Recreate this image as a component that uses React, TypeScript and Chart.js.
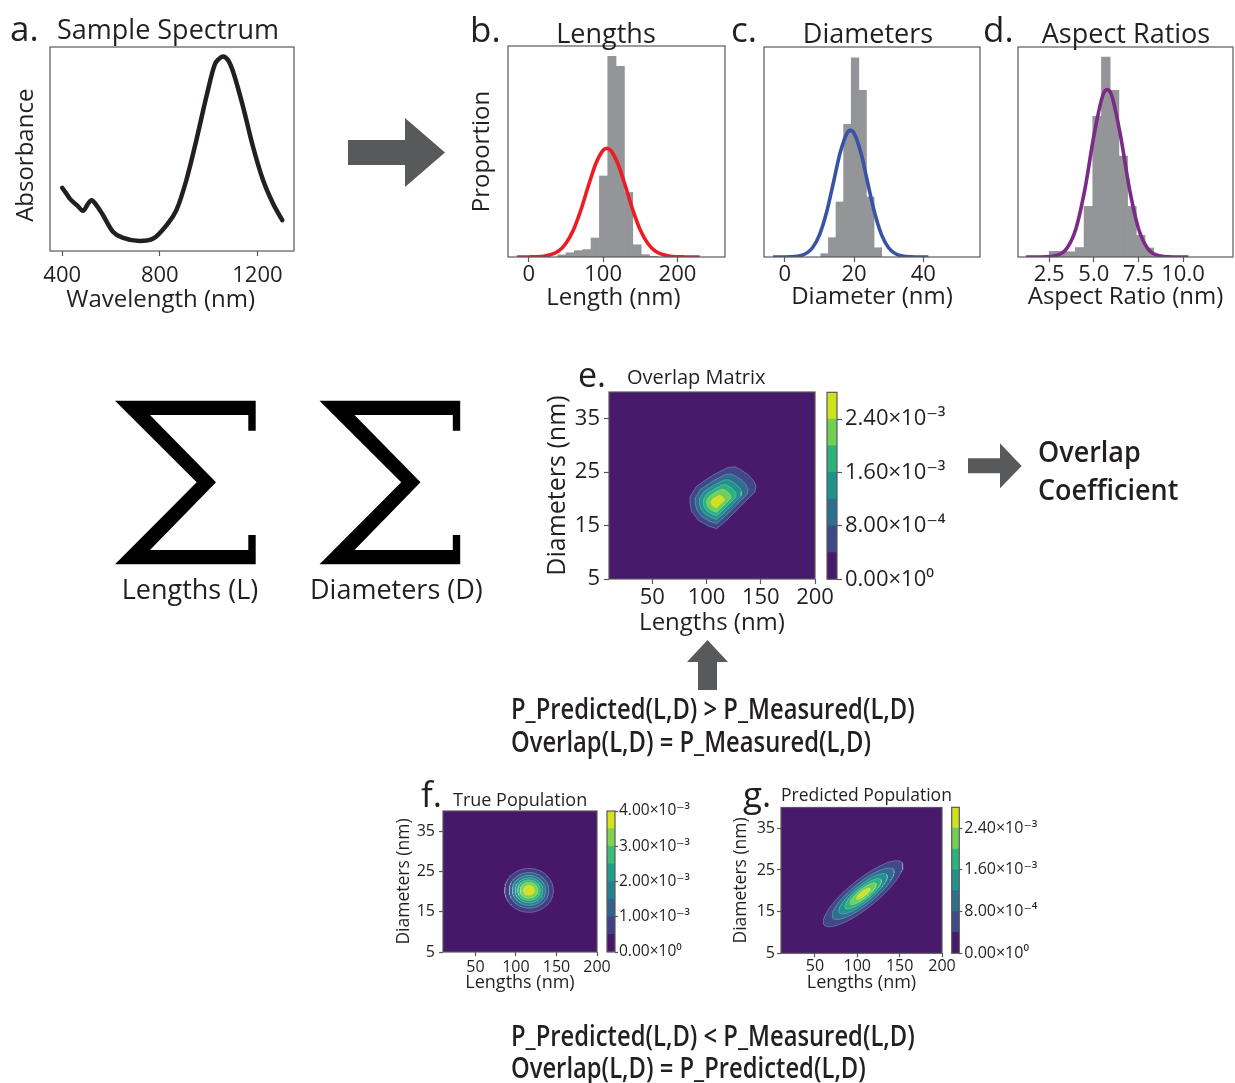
import React, { useEffect, useRef } from 'react';
import { Chart, registerables } from 'chart.js';

Chart.register(...registerables);

const FONT = "'Open Sans', 'DejaVu Sans', sans-serif";
const INK = '#231f20';
const FRAME = '#58595b';
const ARROW = '#58595b';
const HIST_GRAY = '#939598';

// ---------- a. Sample spectrum ----------
const spectrumWavelength = [400, 415, 431, 460, 486, 505, 520, 540, 565, 609, 650, 718, 773, 827, 868, 909, 950, 991, 1025, 1042, 1059, 1080, 1100, 1141, 1182, 1223, 1264, 1302];
const spectrumAbsorbance = [0.31, 0.285, 0.257, 0.225, 0.197, 0.23, 0.249, 0.225, 0.18, 0.093, 0.064, 0.049, 0.061, 0.126, 0.2, 0.348, 0.544, 0.757, 0.913, 0.941, 0.954, 0.935, 0.88, 0.708, 0.511, 0.348, 0.233, 0.151];
const spectrumTicks = [400, 800, 1200];

// ---------- b. Lengths ----------
const lengthBinCenters = [44.3, 55.6, 66.8, 78.1, 89.3, 100.6, 111.8, 123.1, 134.3, 145.6, 156.8, 168.1];
const lengthBinHeights = [0.01, 0.02, 0.03, 0.035, 0.09, 0.384, 0.951, 0.904, 0.306, 0.058, 0.011, 0.003];
const lengthFitX = [-16, 0, 20, 40, 50, 60, 70, 80, 90, 100, 105, 110, 120, 130, 140, 150, 160, 170, 190, 210, 230];
const lengthFitY = [0, 0.0003, 0.0036, 0.028, 0.065, 0.128, 0.222, 0.335, 0.441, 0.506, 0.515, 0.506, 0.441, 0.335, 0.222, 0.128, 0.065, 0.028, 0.0036, 0.0003, 0];
const lengthTicks = [0, 100, 200];

// ---------- c. Diameters ----------
const diameterBinCenters = [11.5, 13.7, 15.9, 18.1, 20.3, 22.5, 24.7, 26.9];
const diameterBinHeights = [0.016, 0.092, 0.262, 0.632, 0.949, 0.794, 0.286, 0.044];
const diameterFitX = [-3.4, 0, 5, 8, 10, 12, 14, 16, 18, 19, 20, 22, 24, 26, 28, 30, 33, 38, 41.5];
const diameterFitY = [0, 0.0002, 0.0086, 0.044, 0.104, 0.208, 0.35, 0.496, 0.59, 0.603, 0.59, 0.496, 0.35, 0.208, 0.104, 0.044, 0.0086, 0.0002, 0];
const diameterTicks = [0, 20, 40];

// ---------- d. Aspect ratios ----------
const aspectBinCenters = [2.744, 3.232, 3.72, 4.208, 4.696, 5.184, 5.672, 6.16, 6.648, 7.136, 7.624, 8.112, 8.6];
const aspectBinHeights = [0.027, 0.027, 0.025, 0.045, 0.241, 0.67, 0.952, 0.794, 0.481, 0.241, 0.103, 0.043, 0.008];
const aspectFitX = [1.2, 2, 3, 3.5, 4, 4.5, 5, 5.5, 5.75, 6, 6.5, 7, 7.5, 8, 8.5, 9.5, 10.3];
const aspectFitY = [0, 0.0002, 0.01, 0.043, 0.136, 0.323, 0.576, 0.769, 0.797, 0.769, 0.576, 0.323, 0.136, 0.043, 0.01, 0.0002, 0];
const aspectTicks = [2.5, 5, 7.5, 10];

// ---------- e/f/g. 2D maps ----------
const mapLengthTicks = [50, 100, 150, 200];
const mapDiameterTicks = [5, 15, 25, 35];

// e. overlap: outer (4e-4) contour outline, peak, and relative size of each higher level
const overlapOutlineL = [84.7, 90.9, 106.2, 120.0, 126.0, 132.0, 138.5, 143.5, 145.6, 144.7, 130.8, 118.6, 109.3, 101.6, 92.4, 86.3, 84.7, 84.7];
const overlapOutlineD = [20.4, 22.4, 24.5, 25.9, 26.0, 25.4, 24.5, 23.4, 22.4, 21.3, 18.5, 16.0, 14.4, 14.9, 16.0, 17.6, 19.2, 20.4];
const overlapPeak = { L: 109, D: 19.3 };
const overlapLevelScale = [1, 0.8, 0.64, 0.5, 0.37, 0.2];

// f. true population: centre, outer (5e-4) radii, relative size per level
const trueCenter = { L: 116.1, D: 20.3 };
const trueRadius = { L: 30.1, D: 5.46 };
const trueLevelScale = [1, 0.81, 0.68, 0.57, 0.465, 0.36, 0.22];

// g. predicted population: centre, outer (4e-4) semi-axes, relative size per level
const predCenter = { L: 106.9, D: 19.3 };
const predMajor = { L: 45.8, D: 7.49 };
const predMinor = { L: 10.5, D: -2.65 };
const predLevelScale = [1, 0.78, 0.61, 0.46, 0.33, 0.17];

const viridis7 = ['rgb(71,26,108)', 'rgb(63,72,136)', 'rgb(46,110,142)', 'rgb(33,145,140)', 'rgb(45,178,125)', 'rgb(114,207,86)', 'rgb(208,225,30)'];
const viridis8 = ['rgb(71,23,105)', 'rgb(66,64,133)', 'rgb(52,98,141)', 'rgb(38,129,142)', 'rgb(31,159,136)', 'rgb(63,188,115)', 'rgb(130,211,76)', 'rgb(215,226,28)'];

const overlapCbarStep = 4e-4;
const overlapCbarTicks = [0, 8e-4, 1.6e-3, 2.4e-3];
const overlapCbarLabels = ['0.00×10⁰', '8.00×10⁻⁴', '1.60×10⁻³', '2.40×10⁻³'];
const trueCbarStep = 5e-4;
const trueCbarTicks = [0, 1e-3, 2e-3, 3e-3, 4e-3];
const trueCbarLabels = ['0.00×10⁰', '1.00×10⁻³', '2.00×10⁻³', '3.00×10⁻³', '4.00×10⁻³'];

// ---------- helpers ----------
type Pt = { x: number; y: number };
const zipPts = (xs: number[], ys: number[]): Pt[] => xs.map((x, i) => ({ x, y: ys[i] }));

const framePlugin = {
  id: 'frame',
  afterDraw(chart: any) {
    const { ctx, chartArea: a } = chart;
    ctx.save();
    ctx.strokeStyle = FRAME;
    ctx.lineWidth = 1.2;
    ctx.strokeRect(a.left, a.top, a.right - a.left, a.bottom - a.top);
    ctx.restore();
  },
};
Chart.register(framePlugin as any);

const font = (size: number, weight: any = 'normal') => ({ family: FONT, size, weight, lineHeight: 1.2 });

interface AxisOpts {
  min: number; max: number; ticks?: number[]; size: number; tickFont?: number; tickLen?: number; tickPad?: number;
  fmt?: (v: number, i: number) => string; title?: string; titleFont?: number; titlePad?: number; position?: string;
}

function linearAxis(o: AxisOpts, horizontal: boolean): any {
  const show = !!o.ticks;
  return {
    type: 'linear',
    position: o.position ?? (horizontal ? 'bottom' : 'left'),
    min: o.min, max: o.max, offset: false,
    afterBuildTicks: (s: any) => { if (o.ticks) s.ticks = o.ticks.map((v) => ({ value: v })); },
    afterFit: (s: any) => {
      if (horizontal) s.height = o.size; else s.width = o.size;
      s.paddingLeft = 0; s.paddingRight = 0; s.paddingTop = 0; s.paddingBottom = 0;
    },
    ticks: {
      display: show, autoSkip: false, maxRotation: 0, minRotation: 0, padding: o.tickPad ?? 3, color: INK,
      font: font(o.tickFont ?? 12),
      callback: (v: any, i: number) => (o.fmt ? o.fmt(Number(v), i) : String(v)),
    },
    grid: { display: show, drawOnChartArea: false, drawTicks: true, tickLength: o.tickLen ?? 5, tickWidth: 1.2, color: FRAME, offset: false },
    border: { display: false },
    title: o.title
      ? { display: true, text: o.title, color: INK, font: font(o.titleFont ?? 24), padding: horizontal ? { top: 0, bottom: o.titlePad ?? 0 } : { top: o.titlePad ?? 0, bottom: 0 } }
      : { display: false },
  };
}

function baseOptions(padding: any, scales: any): any {
  return {
    responsive: false, animation: false, events: [], devicePixelRatio: 1,
    layout: { padding },
    plugins: { legend: { display: false }, tooltip: { enabled: false }, title: { display: false } },
    elements: { point: { radius: 0 } },
    scales,
  };
}

function histConfig(bx: number[], by: number[], fx: number[], fy: number[], color: string, x: AxisOpts, y: AxisOpts, padding: any): any {
  return {
    type: 'bar',
    data: {
      datasets: [
        { type: 'line', data: zipPts(fx, fy), borderColor: color, borderWidth: 3.6, pointRadius: 0, cubicInterpolationMode: 'monotone', fill: false, order: 0 },
        { type: 'bar', data: zipPts(bx, by), backgroundColor: HIST_GRAY, borderWidth: 0, barPercentage: 1, categoryPercentage: 1, order: 1 },
      ],
    },
    options: baseOptions(padding, { x: linearAxis(x, true), y: linearAxis(y, false) }),
  };
}

function ellipsePts(c: { L: number; D: number }, a: { L: number; D: number }, b: { L: number; D: number }, k: number, n = 120): Pt[] {
  const pts: Pt[] = [];
  for (let i = 0; i <= n; i++) {
    const t = (i / n) * 2 * Math.PI;
    pts.push({ x: c.L + k * (a.L * Math.cos(t) + b.L * Math.sin(t)), y: c.D + k * (a.D * Math.cos(t) + b.D * Math.sin(t)) });
  }
  return pts;
}

function scaledOutline(k: number): Pt[] {
  return overlapOutlineL.map((L, i) => ({
    x: overlapPeak.L + (L - overlapPeak.L) * k,
    y: overlapPeak.D + (overlapOutlineD[i] - overlapPeak.D) * k,
  }));
}

function contourConfig(bands: Pt[][], colors: string[], x: AxisOpts, y: AxisOpts, padding: any): any {
  const bg = [{ x: x.min, y: y.min }, { x: x.max, y: y.min }, { x: x.max, y: y.max }, { x: x.min, y: y.max }, { x: x.min, y: y.min }];
  const datasets: any[] = [
    { type: 'line', data: bg, backgroundColor: colors[0], borderWidth: 0, borderColor: colors[0], fill: 'shape', pointRadius: 0, order: 100 },
    ...bands.map((pts, k) => ({
      type: 'line', data: pts, backgroundColor: colors[k + 1], borderColor: 'rgba(225,235,255,0.45)', borderWidth: 0.6,
      fill: 'shape', pointRadius: 0, tension: 0, order: 99 - k,
    })),
  ];
  return { type: 'line', data: { datasets }, options: baseOptions(padding, { x: linearAxis(x, true), y: linearAxis(y, false) }) };
}

function colorbarConfig(colors: string[], step: number, ticks: number[], labels: string[], fontSize: number, tickLen: number, tickPad: number, axisW: number, padding: any): any {
  return {
    type: 'bar',
    data: {
      labels: [''],
      datasets: colors.map((c) => ({ data: [step], backgroundColor: c, borderWidth: 0, barPercentage: 1, categoryPercentage: 1, stack: 'cb' })),
    },
    options: baseOptions(padding, {
      x: { display: false, stacked: true },
      y: {
        ...linearAxis({ min: 0, max: step * colors.length, ticks, size: axisW, tickFont: fontSize, tickLen, tickPad, fmt: (_v, i) => labels[i], position: 'right' }, false),
        stacked: true,
      },
    }),
  };
}

function ChartBox({ left, top, width, height, make }: { left: number; top: number; width: number; height: number; make: () => any }) {
  const ref = useRef<HTMLCanvasElement>(null);
  useEffect(() => {
    const chart = new Chart(ref.current as HTMLCanvasElement, make());
    return () => chart.destroy();
  }, []);
  return <canvas ref={ref} width={width} height={height} style={{ position: 'absolute', left, top, width, height }} />;
}

function Label({ x, y, size, text, weight = 400, center = false, sx = 1, ls = 0 }: { x: number; y: number; size: number; text: string; weight?: number; center?: boolean; sx?: number; ls?: number }) {
  const style: React.CSSProperties = {
    position: 'absolute', left: x, top: y - 0.888 * size, fontSize: size, lineHeight: `${size}px`, fontFamily: FONT,
    fontWeight: weight, whiteSpace: 'nowrap', color: INK, letterSpacing: ls,
    transform: `${center ? 'translateX(-50%) ' : ''}scaleX(${sx})`, transformOrigin: center ? 'center' : 'left',
  };
  return <div style={style}>{text}</div>;
}

const sigmaPoints = '115,400.7 255.7,400.7 255.7,430.7 248.3,430.7 248.3,415 150,415 216,482.3 150,550 248.3,550 248.3,535 255.7,535 255.7,564.3 115,564.3 196.7,482.3';

export default function App() {
  const overlapBands = overlapLevelScale.map((k) => scaledOutline(k));
  const trueBands = trueLevelScale.map((k) => ellipsePts(trueCenter, { L: trueRadius.L, D: 0 }, { L: 0, D: trueRadius.D }, k));
  const predBands = predLevelScale.map((k) => ellipsePts(predCenter, predMajor, predMinor, k));

  const mapX = (size: number, tickFont: number, tickLen: number, tickPad: number, titleFont: number, titlePad: number): AxisOpts => ({
    min: 10, max: 200, ticks: mapLengthTicks, size, tickFont, tickLen, tickPad, title: 'Lengths (nm)', titleFont, titlePad,
  });
  const mapY = (size: number, tickFont: number, tickLen: number, tickPad: number, titleFont: number, titlePad: number): AxisOpts => ({
    min: 5, max: 40, ticks: mapDiameterTicks, size, tickFont, tickLen, tickPad, title: 'Diameters (nm)', titleFont, titlePad,
  });

  const semi = { weight: 600, size: 29, sx: 0.82 };

  return (
    <div style={{ position: 'absolute', left: 0, top: 0, width: 1235, height: 1083, background: '#fff', overflow: 'hidden' }}>
      {/* a */}
      <ChartBox left={0} top={40} width={300} height={280} make={() => ({
        type: 'line',
        data: { datasets: [{ data: zipPts(spectrumWavelength, spectrumAbsorbance), borderColor: INK, borderWidth: 4.5, pointRadius: 0, cubicInterpolationMode: 'monotone', borderCapStyle: 'round', borderJoinStyle: 'round', fill: false }] },
        options: baseOptions({ left: 0, top: 7, right: 6, bottom: 0 }, {
          x: linearAxis({ min: 350, max: 1350, ticks: spectrumTicks, size: 69, tickFont: 22, tickLen: 5, tickPad: 7, title: 'Wavelength (nm)   \u2009', titleFont: 24, titlePad: 5 }, true),
          y: linearAxis({ min: 0, max: 1, size: 50, title: 'Absorbance  ', titleFont: 24, titlePad: 12 }, false),
        }),
      })} />
      {/* b */}
      <ChartBox left={460} top={40} width={270} height={280} make={() => histConfig(lengthBinCenters, lengthBinHeights, lengthFitX, lengthFitY, '#ed1c24',
        { min: -28, max: 264, ticks: lengthTicks, size: 63, tickFont: 22, tickLen: 5, tickPad: 0, title: 'Length (nm) ', titleFont: 24, titlePad: 7.4 },
        { min: 0, max: 1, size: 48, title: 'Proportion', titleFont: 24, titlePad: 8 },
        { left: 0, top: 6, right: 5, bottom: 0 })} />
      {/* c */}
      <ChartBox left={740} top={40} width={245} height={280} make={() => histConfig(diameterBinCenters, diameterBinHeights, diameterFitX, diameterFitY, '#3953a4',
        { min: -6, max: 56.4, ticks: diameterTicks, size: 63, tickFont: 22, tickLen: 5, tickPad: 0, title: 'Diameter (nm)', titleFont: 24, titlePad: 8.5 },
        { min: 0, max: 1, size: 24 },
        { left: 0, top: 7, right: 5, bottom: 0 })} />
      {/* d */}
      <ChartBox left={990} top={40} width={245} height={280} make={() => histConfig(aspectBinCenters, aspectBinHeights, aspectFitX, aspectFitY, '#7b2a88',
        { min: 0.75, max: 12.8, ticks: aspectTicks, size: 63, tickFont: 22, tickLen: 5, tickPad: 0, fmt: (v) => v.toFixed(1), title: 'Aspect Ratio (nm)', titleFont: 24, titlePad: 8.5 },
        { min: 0, max: 1, size: 28 },
        { left: 0, top: 7, right: 2, bottom: 0 })} />

      {/* e */}
      <ChartBox left={540} top={385} width={300} height={255} make={() => contourConfig(overlapBands, viridis7,
        mapX(61, 22, 5, 1, 24, 2), mapY(69, 22, 5, 4, 25, 2.4), { left: 0, top: 7, right: 25, bottom: 0 })} />
      <ChartBox left={822} top={385} width={138} height={215} make={() => colorbarConfig(viridis7, overlapCbarStep, overlapCbarTicks, overlapCbarLabels, 22, 5, 3, 123,
        { left: 5, top: 7.3, right: 0, bottom: 20.7 })} />

      {/* f */}
      <ChartBox left={385} top={805} width={230} height={195} make={() => contourConfig(trueBands, viridis8,
        mapX(48, 16, 4, 1.5, 18, 6.6), mapY(58, 16, 4, 4, 17.5, 8.7), { left: 0, top: 6, right: 18, bottom: 0 })} />
      <ChartBox left={602} top={790} width={110} height={185} make={() => colorbarConfig(viridis8, trueCbarStep, trueCbarTicks, trueCbarLabels, 15.5, 3, 1, 97,
        { left: 5, top: 21, right: 0, bottom: 23 })} />

      {/* g */}
      <ChartBox left={725} top={802} width={235} height={198} make={() => contourConfig(predBands, viridis7,
        mapX(46.7, 16, 4, 0, 18, 6), mapY(56, 16, 4, 2, 17.5, 5.3), { left: 0, top: 5.5, right: 18, bottom: 0 })} />
      <ChartBox left={946} top={802} width={114} height={175} make={() => colorbarConfig(viridis7, overlapCbarStep, overlapCbarTicks, overlapCbarLabels, 16, 3, 2, 100.7,
        { left: 5.7, top: 5.3, right: 0, bottom: 23.7 })} />

      {/* shapes */}
      <svg width={1235} height={1083} style={{ position: 'absolute', left: 0, top: 0, pointerEvents: 'none' }}>
        <polygon points="348,140 405,140 405,118 445,152.5 405,187 405,165 348,165" fill={ARROW} />
        <polygon points="968,458.3 1000,458.3 1000,443.3 1021.7,466 1000,488.3 1000,473.3 968,473.3" fill={ARROW} />
        <polygon points="707.5,640 728,662 717,662 717,690 698,690 698,662 687,662" fill={ARROW} />
        <polygon points={sigmaPoints} fill="#000" />
        <polygon points={sigmaPoints} fill="#000" transform="translate(204.5,0)" />
      </svg>

      {/* texts */}
      <Label x={10} y={40.7} size={35} text="a." />
      <Label x={57} y={39.3} size={27} text="Sample Spectrum" />
      <Label x={470} y={41.7} size={35} text="b." />
      <Label x={606} y={42.7} size={27} text="Lengths" center />
      <Label x={731} y={41.7} size={35} text="c." />
      <Label x={868} y={42.7} size={27} text="Diameters" center />
      <Label x={983} y={41.7} size={35} text="d." />
      <Label x={1126} y={42.7} size={27} text="Aspect Ratios" center />
      <Label x={578} y={386.7} size={34} text="e." />
      <Label x={627} y={385} size={20} text="Overlap Matrix" />
      <Label x={421} y={806.7} size={35} text="f." />
      <Label x={453} y={805.7} size={18} text="True Population" />
      <Label x={743} y={806.7} size={35} text="g." />
      <Label x={781} y={801.7} size={17.5} text="Predicted Population" />
      <Label x={121.7} y={598.5} size={27} text="Lengths (L)" />
      <Label x={310} y={598.5} size={27} text="Diameters (D)" />
      <Label x={1038} y={461.7} size={29} weight={600} sx={0.93} text="Overlap" />
      <Label x={1038} y={500} size={29} weight={600} sx={0.93} text="Coefficient" />
      <Label x={511} y={719} size={semi.size} weight={semi.weight} sx={semi.sx} text="P_Predicted(L,D) > P_Measured(L,D)" />
      <Label x={511} y={752} size={semi.size} weight={semi.weight} sx={semi.sx} text="Overlap(L,D) = P_Measured(L,D)" />
      <Label x={511} y={1046} size={semi.size} weight={semi.weight} sx={semi.sx} text="P_Predicted(L,D) < P_Measured(L,D)" />
      <Label x={511} y={1078} size={semi.size} weight={semi.weight} sx={semi.sx} text="Overlap(L,D) = P_Predicted(L,D)" />
    </div>
  );
}
